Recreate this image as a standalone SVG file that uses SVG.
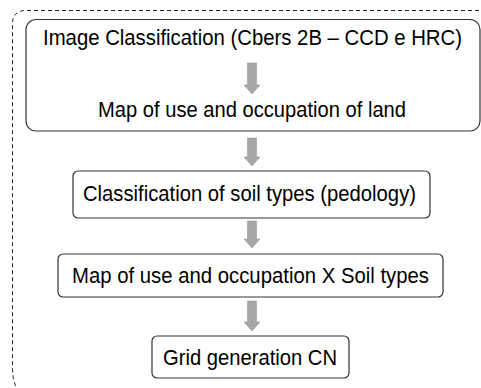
<svg xmlns="http://www.w3.org/2000/svg" width="481" height="388" viewBox="0 0 481 388">
<style>
.box{fill:#fff;stroke:#333;stroke-width:1.2}
.t{font-family:"Liberation Sans",Arial,sans-serif;font-size:21.5px;fill:#000;text-anchor:middle}
.arr{fill:#a6a6a6;stroke:#9a9a9a;stroke-width:0.6}
</style>
<rect width="481" height="388" fill="#fff"/>
<path d="M 500 10.5 H 26 Q 12.5 10.5 12.5 24 V 368 Q 12.5 386 22 396" fill="none" stroke="#222" stroke-width="1" stroke-dasharray="4,3"/>
<g id="node1">
<rect class="box" x="26" y="19.5" width="454" height="111.5" rx="10"/>
<text class="t" x="252.5" y="45" textLength="419" lengthAdjust="spacingAndGlyphs">Image Classification (Cbers 2B – CCD e HRC)</text>
<text class="t" x="252" y="117" textLength="308" lengthAdjust="spacingAndGlyphs">Map of use and occupation of land</text>
</g>
<g id="node2">
<rect class="box" x="73" y="171" width="357" height="47" rx="5"/>
<text class="t" x="249.5" y="201" textLength="333" lengthAdjust="spacingAndGlyphs">Classification of soil types (pedology)</text>
</g>
<g id="node3">
<rect class="box" x="58" y="254" width="385" height="43" rx="5"/>
<text class="t" x="250.5" y="283" textLength="357" lengthAdjust="spacingAndGlyphs">Map of use and occupation X Soil types</text>
</g>
<g id="node4">
<rect class="box" x="152" y="336" width="197" height="42" rx="5"/>
<text class="t" x="250" y="364.5" textLength="174" lengthAdjust="spacingAndGlyphs">Grid generation CN</text>
</g>
<g id="connectors">
<path class="arr" d="M 247.5 63 H 256.5 V 85 H 260 L 252 94 L 244 85 H 247.5 Z"/>
<path class="arr" d="M 247.5 138 H 256.5 V 157 H 260 L 252 166 L 244 157 H 247.5 Z"/>
<path class="arr" d="M 247.5 221 H 256.5 V 239 H 260 L 252 248 L 244 239 H 247.5 Z"/>
<path class="arr" d="M 247.5 301 H 256.5 V 322 H 260 L 252 331 L 244 322 H 247.5 Z"/>
</g>
</svg>
